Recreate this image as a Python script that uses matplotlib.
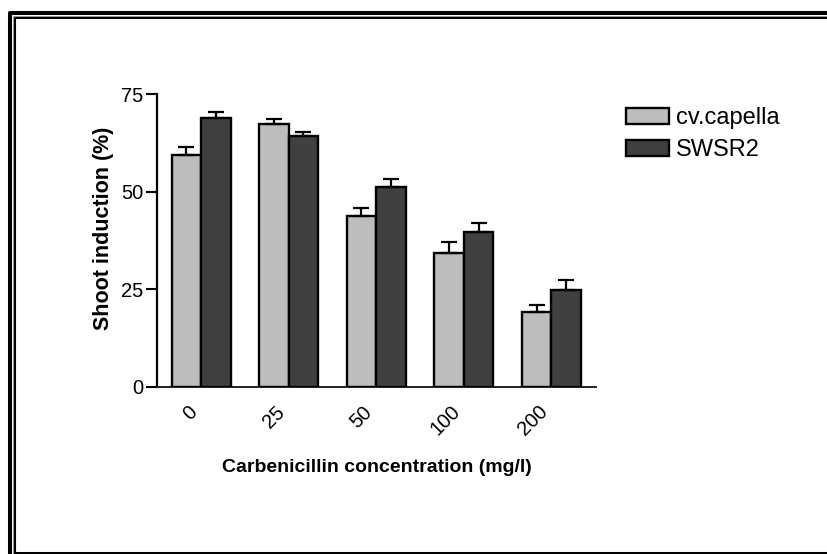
import numpy as np
import matplotlib
matplotlib.use("Agg")
import matplotlib.pyplot as plt
from matplotlib.lines import Line2D

plt.rcParams["font.family"] = ["Liberation Sans", "DejaVu Sans"]

# shoot induction (%) per carbenicillin dose, mean and upper SE
concentrations = ["0", "25", "50", "100", "200"]
capella_mean = [59.5, 67.3, 43.8, 34.4, 19.3]
capella_err = [1.9, 1.2, 2.1, 2.6, 1.8]
swsr2_mean = [68.8, 64.2, 51.2, 39.8, 24.8]
swsr2_err = [1.5, 1.0, 2.1, 2.1, 2.6]

W, H = 828, 554
fig = plt.figure(figsize=(W / 100, H / 100), dpi=100)
ax = fig.add_axes([157 / W, 1 - 387 / H, (596 - 157) / W, (387 - 94) / H])

x = np.arange(len(concentrations))
bw = 0.337
err_kw = dict(elinewidth=1.6, capthick=1.6, ecolor="black")
ax.bar(x - bw / 2, capella_mean, bw, color="#bdbdbd", edgecolor="black",
       linewidth=1.7, label="cv.capella", zorder=3,
       yerr=[np.zeros(5), capella_err], capsize=5.8, error_kw=err_kw)
ax.bar(x + bw / 2, swsr2_mean, bw, color="#404040", edgecolor="black",
       linewidth=1.7, label="SWSR2", zorder=3,
       yerr=[np.zeros(5), swsr2_err], capsize=5.8, error_kw=err_kw)

ax.set_xlim(-0.503, 4.51)
ax.set_ylim(0, 75)
ax.set_yticks([0, 25, 50, 75])
ax.set_xticks(x)
ax.set_xticklabels(concentrations, rotation=45, ha="right", va="top")
ax.tick_params(axis="x", length=0, pad=11, labelsize=14.5)
ax.tick_params(axis="y", length=8, width=1.5, labelsize=14.5, pad=2)
for side in ("top", "right"):
    ax.spines[side].set_visible(False)
ax.spines["left"].set_linewidth(1.6)
ax.spines["bottom"].set_linewidth(1.4)
ax.spines["bottom"].set_color("#222222")

ax.set_ylabel("Shoot induction (%)", fontsize=15.5, fontweight="bold")
ax.yaxis.set_label_coords(-0.098, 0.54)
ax.set_xlabel("Carbenicillin concentration (mg/l)", fontsize=14,
              fontweight="bold", labelpad=14)

leg = ax.legend(loc="upper left", bbox_to_anchor=(626 / W, 1 - 107 / H),
                bbox_transform=fig.transFigure, frameon=False, fontsize=17,
                handlelength=1.83, handleheight=0.65, handletextpad=0.3,
                labelspacing=0.42, borderpad=0, borderaxespad=0)

# double border around the whole figure
def px_line(xs, ys, lw, color):
    fig.add_artist(Line2D([v / W for v in xs], [1 - v / H for v in ys],
                          transform=fig.transFigure, lw=lw, color=color,
                          solid_capstyle="butt"))

px_line([10, 10, W + 5], [H + 5, 12.5, 12.5], 2.9, "black")
px_line([13.5, 13.5, W + 5], [H + 5, 15.5, 15.5], 0.8, "#a0a0a0")
px_line([15, 15, W + 5], [H + 5, 17.5, 17.5], 1.5, "black")
px_line([15, W + 5], [552.5, 552.5], 2.2, "black")

fig.savefig("out.png", dpi=100)
